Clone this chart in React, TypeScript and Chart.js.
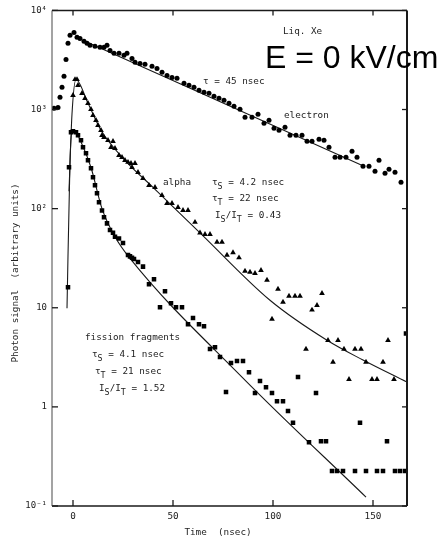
import React, { useEffect, useRef } from 'react';
import { Chart, registerables } from 'chart.js';

Chart.register(...registerables);

// ---- axis ticks ----
const xTickValues = [0, 50, 100, 150];
const xTickLabels = ['0', '50', '100', '150'];
const yTickValues = [0.1, 1, 10, 100, 1000, 10000];
const yTickLabels = ['10⁻¹', '1', '10', '10²', '10³', '10⁴'];

// ---- electron (circles) ----
const electronTime = [
  -9.5, -7.5, -6.5, -5.5, -4.5, -3.5, -2.5, -1.5, 0.5, 2, 3.5, 5.5, 7, 8.5, 11, 13.5, 15.5, 17, 18.5,
  20.5, 23, 25.5, 27, 29.5, 31, 33.5, 36, 39.5, 42, 44.5, 47, 49.5, 52, 55.5, 58, 60.5, 63, 65.5, 68,
  70.5, 73, 75.5, 78, 80.5, 83.5, 86, 89.5, 92.5, 95.5, 98, 100.5, 103, 106, 108.5, 111.5, 114.5, 117,
  119.5, 123, 125.5, 128, 131, 133.5, 136.5, 139.5, 142, 145, 148, 151, 153, 156, 158, 161, 164,
];
const electronSignal = [
  1030, 1050, 1330, 1675, 2160, 3200, 4650, 5600, 6000, 5350, 5220, 4870, 4650, 4440, 4340, 4240, 4240,
  4440, 3950, 3690, 3690, 3520, 3690, 3280, 2990, 2920, 2860, 2725, 2600, 2370, 2210, 2110, 2065, 1840,
  1755, 1675, 1563, 1490, 1457, 1360, 1297, 1238, 1155, 1077, 1004, 834, 834, 895, 726, 778, 646, 617,
  662, 549, 549, 549, 478, 478, 501, 490, 416, 330, 330, 330, 379, 330, 267, 267, 238, 307, 228, 250,
  233, 185,
];

// ---- alpha (triangles) ----
const alphaTime = [
  0, 1, 2, 2.5, 4.5, 6, 7.5, 9, 10, 11.5, 12.5, 14, 14.5, 15.5, 17.5, 20, 19, 21, 23, 24.5, 26, 27.5,
  29, 31, 29.5, 32.5, 35, 38, 41, 44.5, 47, 49.5, 52.5, 55, 57.5, 61, 63.5, 66, 68.5, 72, 74.5, 77, 80,
  83, 86, 88.5, 91, 94, 97, 99.5, 102.5, 105, 108, 111, 113.5, 116.5, 119.5, 122, 124.5, 127.5, 130,
  132.5, 135.5, 138, 141, 144, 146.5, 149.5, 152, 155, 157.5, 160.5,
];
const alphaSignal = [
  1390, 2010, 2010, 1755, 1457, 1297, 1155, 1004, 875, 778, 693, 617, 549, 525, 490, 478, 416, 406, 345,
  330, 307, 294, 287, 287, 261, 233, 202, 172, 164, 136, 113, 113, 103, 96, 96, 73, 57, 55, 55, 46, 46,
  34, 36, 32, 23.4, 22.9, 22.3, 23.9, 19.0, 7.7, 15.4, 11.4, 13.1, 13.1, 13.1, 3.83, 9.5, 10.6, 14.0,
  4.7, 2.83, 4.7, 3.83, 1.9, 3.83, 3.83, 2.83, 1.9, 1.9, 2.83, 4.7, 1.9,
];

// ---- fission fragments (squares) ----
const fissionTime = [
  -2.5, -2, -1, 0, 1.5, 2.5, 4, 5, 6.5, 7.5, 9, 10, 11, 12, 13, 14.5, 15.5, 17, 18.5, 20, 21, 23, 25,
  27.5, 28.5, 29.5, 30.5, 32.5, 35, 38, 40.5, 43.5, 46, 49, 51.5, 54.5, 57.5, 60, 63, 65.5, 68.5, 71,
  73.5, 76.5, 79, 82, 85, 88, 91, 93.5, 96.5, 99.5, 102, 105, 107.5, 110, 112.5, 118, 121.5, 124, 126.5,
  129.5, 132, 135, 141, 143.5, 146.5, 152, 155, 157, 161, 163.5, 166, 166.5,
];
const fissionSignal = [
  16.1, 261, 589, 603, 589, 549, 490, 416, 362, 307, 255, 207, 172, 143, 116, 96, 82, 71, 61, 57, 52, 50,
  45, 34, 33, 32, 31, 29, 26, 17.3, 19.4, 10.1, 14.7, 11.1, 10.1, 10.1, 6.8, 7.9, 6.8, 6.5, 3.83, 4.0,
  3.18, 1.41, 2.77, 2.9, 2.9, 2.24, 1.38, 1.82, 1.58, 1.38, 1.14, 1.14, 0.91, 0.69, 2.0, 0.44, 1.38,
  0.45, 0.45, 0.225, 0.225, 0.225, 0.225, 0.69, 0.225, 0.225, 0.225, 0.45, 0.225, 0.225, 0.225, 5.5,
];

// ---- fitted curves ----
const electronFitTime = [8, 145.5];
const electronFitSignal = [4700, 267];
const alphaFitTime = [-2, -0.5, 1.5, 7.5, 14, 26, 40, 63.5, 98.5, 127, 145, 167];
const alphaFitSignal = [150, 900, 2010, 1155, 617, 307, 164, 57, 11.9, 4.7, 2.97, 1.78];
const fissionFitTime = [-3, -1.5, -0.5, 1, 4, 9, 14.5, 21, 28, 84.5, 146.5];
const fissionFitSignal = [9.9, 300, 590, 600, 470, 260, 100, 52, 32.4, 2.0, 0.123];

const MONO = '"DejaVu Sans Mono", monospace';
const INK = '#1a1a1a';

const toPoints = (xs: number[], ys: number[]) => xs.map((x, i) => ({ x, y: ys[i] }));

type Seg = { t: string; sub?: boolean };

const annotations: { segs: Seg[]; x: number; y: number }[] = [
  { segs: [{ t: 'Liq. Xe' }], x: 283, y: 32 },
  { segs: [{ t: 'τ = 45 nsec' }], x: 203, y: 82 },
  { segs: [{ t: 'electron' }], x: 284, y: 116 },
  { segs: [{ t: 'alpha' }], x: 163, y: 183 },
  { segs: [{ t: 'τ' }, { t: 'S', sub: true }, { t: ' = 4.2 nsec' }], x: 212, y: 183 },
  { segs: [{ t: 'τ' }, { t: 'T', sub: true }, { t: ' = 22 nsec' }], x: 212, y: 199 },
  { segs: [{ t: 'I' }, { t: 'S', sub: true }, { t: '/I' }, { t: 'T', sub: true }, { t: ' = 0.43' }], x: 215, y: 216 },
  { segs: [{ t: 'fission fragments' }], x: 85, y: 338 },
  { segs: [{ t: 'τ' }, { t: 'S', sub: true }, { t: ' = 4.1 nsec' }], x: 92, y: 355 },
  { segs: [{ t: 'τ' }, { t: 'T', sub: true }, { t: ' = 21 nsec' }], x: 95, y: 372 },
  { segs: [{ t: 'I' }, { t: 'S', sub: true }, { t: '/I' }, { t: 'T', sub: true }, { t: ' = 1.52' }], x: 99, y: 389 },
];

function drawRich(ctx: CanvasRenderingContext2D, segs: Seg[], x: number, y: number, size: number) {
  let cx = x;
  ctx.textAlign = 'left';
  ctx.textBaseline = 'middle';
  for (const s of segs) {
    if (s.sub) {
      ctx.font = `${size * 0.9}px ${MONO}`;
      ctx.fillText(s.t, cx, y + 3.5);
    } else {
      ctx.font = `${size}px ${MONO}`;
      ctx.fillText(s.t, cx, y);
    }
    cx += ctx.measureText(s.t).width;
  }
}

const framePlugin = {
  id: 'frame',
  afterDraw(chart: any) {
    const { ctx, chartArea: a, scales } = chart;
    const xs = scales.x;
    const ys = scales.y;
    const seg = (x1: number, y1: number, x2: number, y2: number) => {
      ctx.beginPath();
      ctx.moveTo(x1, y1);
      ctx.lineTo(x2, y2);
      ctx.stroke();
    };
    ctx.save();
    ctx.lineCap = 'butt';
    // frame
    ctx.strokeStyle = INK;
    ctx.lineWidth = 1.5;
    seg(a.left, a.top, a.right, a.top);
    seg(a.left, a.bottom, a.right, a.bottom);
    ctx.lineWidth = 2;
    seg(a.right, a.top, a.right, a.bottom);
    ctx.strokeStyle = '#666';
    ctx.lineWidth = 1.2;
    seg(a.left, a.top, a.left, a.bottom);

    // inward tick marks on all four sides
    ctx.strokeStyle = INK;
    ctx.lineWidth = 1.3;
    for (const v of xTickValues) {
      const px = xs.getPixelForValue(v);
      seg(px, a.bottom, px, a.bottom - 6);
      seg(px, a.top, px, a.top + 5);
    }
    for (const v of yTickValues) {
      const py = ys.getPixelForValue(v);
      seg(a.left, py, a.left + 6, py);
      seg(a.right, py, a.right - 5, py);
    }

    // labels inside the plot
    ctx.fillStyle = '#222';
    for (const an of annotations) drawRich(ctx, an.segs, an.x, an.y, 9.3);

    ctx.fillStyle = '#000';
    ctx.font = '32px "Liberation Sans", Arial, sans-serif';
    ctx.textAlign = 'left';
    ctx.textBaseline = 'alphabetic';
    ctx.fillText('E = 0 kV/cm', 265, 68);

    // axis titles
    ctx.fillStyle = '#222';
    ctx.font = `9.3px ${MONO}`;
    ctx.textAlign = 'center';
    ctx.textBaseline = 'middle';
    ctx.fillText('Time  (nsec)', 218, 533);
    ctx.translate(16, 273);
    ctx.rotate(-Math.PI / 2);
    ctx.fillText('Photon signal  (arbitrary units)', 0, 0);
    ctx.restore();
  },
};

export default function App() {
  const canvasRef = useRef<HTMLCanvasElement | null>(null);

  useEffect(() => {
    const canvas = canvasRef.current;
    if (!canvas) return;
    const fitLine = (xs: number[], ys: number[]) => ({
      data: toPoints(xs, ys),
      showLine: true,
      borderColor: INK,
      borderWidth: 1.1,
      pointRadius: 0,
      cubicInterpolationMode: 'monotone' as const,
      order: 1,
    });
    const chart = new Chart(canvas, {
      type: 'scatter',
      data: {
        datasets: [
          fitLine(electronFitTime, electronFitSignal),
          fitLine(alphaFitTime, alphaFitSignal),
          fitLine(fissionFitTime, fissionFitSignal),
          {
            data: toPoints(electronTime, electronSignal),
            pointStyle: 'circle',
            pointRadius: 2.5,
            backgroundColor: '#000',
            borderWidth: 0,
          },
          {
            data: toPoints(alphaTime, alphaSignal),
            pointStyle: 'triangle',
            pointRadius: 3.3,
            backgroundColor: '#000',
            borderWidth: 0,
          },
          {
            data: toPoints(fissionTime, fissionSignal),
            pointStyle: 'rect',
            pointRadius: 3.2,
            backgroundColor: '#000',
            borderWidth: 0,
          },
        ],
      },
      options: {
        animation: false,
        responsive: false,
        devicePixelRatio: 1,
        layout: { padding: { left: 0, right: 32, top: 10, bottom: 0 } },
        plugins: { legend: { display: false }, tooltip: { enabled: false } },
        scales: {
          x: {
            type: 'linear',
            min: -10.5,
            max: 167,
            grid: { display: false, drawTicks: false },
            border: { display: false },
            afterBuildTicks: (scale: any) => {
              scale.ticks = xTickValues.map((value) => ({ value }));
            },
            afterFit: (scale: any) => {
              scale.height = 33;
            },
            ticks: {
              autoSkip: false,
              maxRotation: 0,
              padding: 5,
              color: '#222',
              font: { family: MONO, size: 9.3 },
              callback: (_v: any, i: number) => xTickLabels[i],
            },
          },
          y: {
            type: 'logarithmic',
            min: 0.1,
            max: 10000,
            grid: { display: false, drawTicks: false },
            border: { display: false },
            afterBuildTicks: (scale: any) => {
              scale.ticks = yTickValues.map((value) => ({ value }));
            },
            afterFit: (scale: any) => {
              scale.width = 52;
            },
            ticks: {
              autoSkip: false,
              padding: 5,
              color: '#222',
              font: { family: MONO, size: 9 },
              callback: (_v: any, i: number) => yTickLabels[i],
            },
          },
        },
      },
      plugins: [framePlugin],
    });
    return () => chart.destroy();
  }, []);

  return (
    <div style={{ position: 'absolute', left: 0, top: 0, width: 439, height: 539, background: '#fff' }}>
      <canvas ref={canvasRef} width={439} height={539} style={{ width: 439, height: 539 }} />
    </div>
  );
}
